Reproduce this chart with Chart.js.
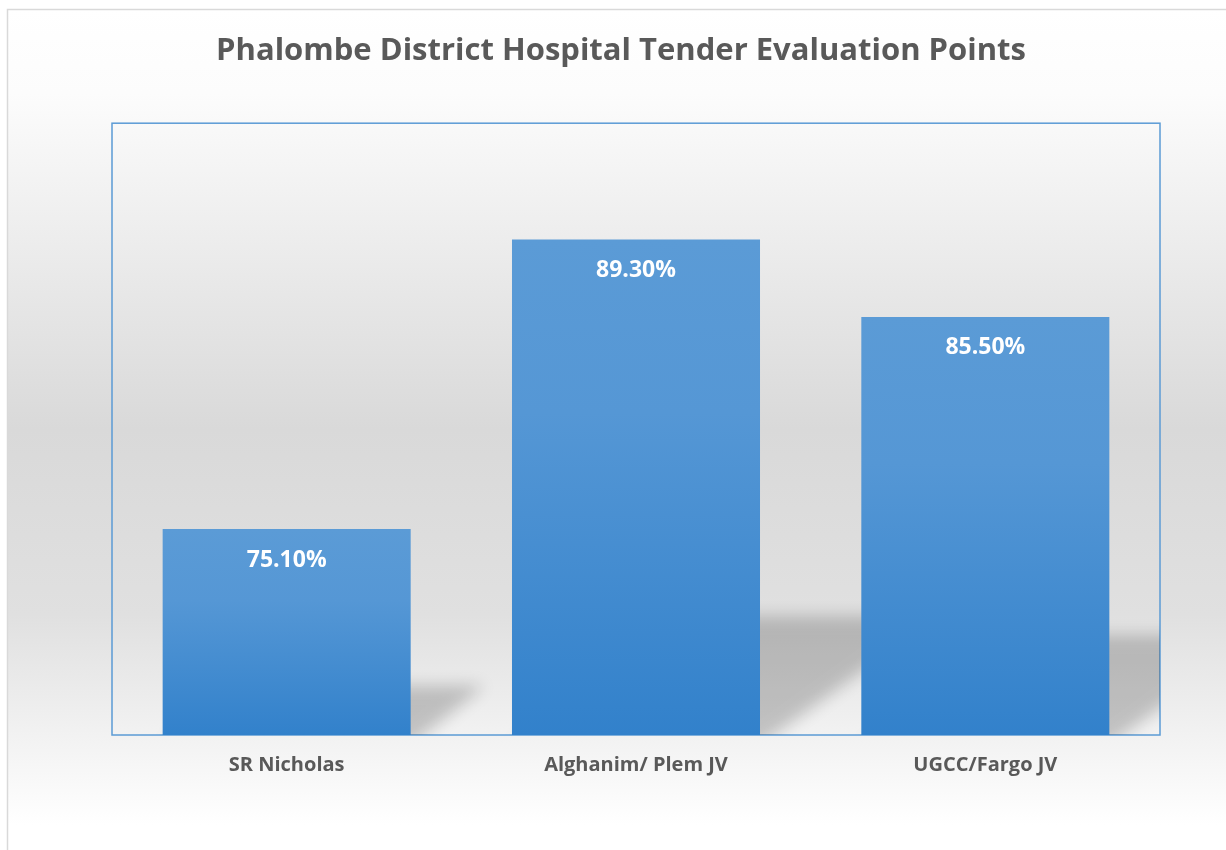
<!DOCTYPE html>
<html lang="en">
<head>
    <meta charset="UTF-8">
    <title>Phalombe District Hospital Tender Evaluation Points</title>
    <script src="https://cdn.jsdelivr.net/npm/chart.js"></script>
    <style>
        html, body { margin: 0; padding: 0; background: #ffffff; }
        canvas { display: block; }
    </style>
</head>
<body>
    <canvas id="tenderChart" width="1226" height="850"></canvas>

    <script>
        // Chart data
        const bidders = ['SR Nicholas', 'Alghanim/ Plem JV', 'UGCC/Fargo JV'];
        const scores = [75.1, 89.3, 85.5];
        const chartTitle = 'Phalombe District Hospital Tender Evaluation Points';

        const fontFamily = '"Open Sans", "Liberation Sans", sans-serif';

        // Grey page background with the thin outer frame
        const backgroundPlugin = {
            id: 'background',
            beforeDraw(chart) {
                const ctx = chart.ctx;
                ctx.save();
                ctx.fillStyle = '#ffffff';
                ctx.fillRect(0, 0, chart.width, chart.height);
                const grad = ctx.createLinearGradient(0, 9, 0, chart.height);
                grad.addColorStop(0, '#ffffff');
                grad.addColorStop(0.1, '#fcfcfc');
                grad.addColorStop(0.5, '#d9d9d9');
                grad.addColorStop(0.72, '#e0e0e0');
                grad.addColorStop(0.97, '#ffffff');
                ctx.fillStyle = grad;
                ctx.fillRect(7, 9, chart.width - 7, chart.height - 9);
                ctx.strokeStyle = '#d9d9d9';
                ctx.lineWidth = 1.5;
                ctx.beginPath();
                ctx.moveTo(7.5, chart.height);
                ctx.lineTo(7.5, 9.5);
                ctx.lineTo(chart.width, 9.5);
                ctx.stroke();
                ctx.restore();
            }
        };

        // Plot frame and soft perspective shadows behind the bars
        const frameAndShadowPlugin = {
            id: 'frameAndShadow',
            beforeDatasetsDraw(chart) {
                const ctx = chart.ctx;
                const area = chart.chartArea;
                ctx.save();
                ctx.strokeStyle = '#5b9bd5';
                ctx.lineWidth = 1.5;
                ctx.strokeRect(area.left, area.top, area.right - area.left, area.bottom - area.top);

                ctx.beginPath();
                ctx.rect(area.left, area.top, area.right - area.left, area.bottom - area.top);
                ctx.clip();
                // shapes are drawn off canvas; only their blurred shadow lands in the plot
                const shift = 4000;
                ctx.shadowOffsetX = shift;
                ctx.shadowOffsetY = 0;
                ctx.shadowBlur = 16;
                ctx.shadowColor = 'rgba(0,0,0,0.2)';
                ctx.fillStyle = '#000000';
                chart.getDatasetMeta(0).data.forEach(bar => {
                    const bottom = area.bottom; // bar base sits below the axis minimum
                    const h = bottom - bar.y;
                    const dy = h * 0.24;
                    const dx = dy * 1.5;
                    const left = bar.x - bar.width / 2 - shift;
                    const right = bar.x + bar.width / 2 - shift;
                    ctx.beginPath();
                    ctx.moveTo(left, bottom + 10);
                    ctx.lineTo(right, bottom + 10);
                    ctx.lineTo(right + dx, bottom - dy);
                    ctx.lineTo(left + dx, bottom - dy);
                    ctx.closePath();
                    ctx.fill();
                });
                ctx.restore();
            }
        };

        // Value labels inside the top of each bar
        const valueLabelPlugin = {
            id: 'valueLabels',
            afterDatasetsDraw(chart) {
                const ctx = chart.ctx;
                ctx.save();
                ctx.fillStyle = '#ffffff';
                ctx.font = 'bold 23px ' + fontFamily;
                ctx.textAlign = 'center';
                ctx.textBaseline = 'middle';
                chart.getDatasetMeta(0).data.forEach((bar, i) => {
                    ctx.fillText(scores[i].toFixed(2) + '%', bar.x, bar.y + 31);
                });
                ctx.restore();
            }
        };

        function barGradient(context) {
            const chart = context.chart;
            if (!chart.chartArea) return '#4a8fd4';
            const y = chart.scales.y;
            const top = y.getPixelForValue(scores[context.dataIndex]);
            const bottom = y.getPixelForValue(y.min);
            const g = chart.ctx.createLinearGradient(0, top, 0, bottom);
            g.addColorStop(0, '#5b9bd6');
            g.addColorStop(0.35, '#5597d5');
            g.addColorStop(1, '#3281cb');
            return g;
        }

        const ctx = document.getElementById('tenderChart').getContext('2d');
        new Chart(ctx, {
            type: 'bar',
            data: {
                labels: bidders,
                datasets: [{
                    label: 'Evaluation Points',
                    data: scores,
                    backgroundColor: barGradient,
                    borderWidth: 0,
                    barPercentage: 0.71,
                    categoryPercentage: 1.0
                }]
            },
            options: {
                responsive: false,
                animation: false,
                layout: {
                    padding: { left: 82, right: 66, top: 0, bottom: 55 }
                },
                plugins: {
                    legend: { display: false },
                    tooltip: { enabled: false },
                    title: {
                        display: true,
                        text: chartTitle,
                        color: '#595959',
                        font: { family: fontFamily, size: 31, weight: 'bold' },
                        padding: { top: 33, bottom: 53 }
                    }
                },
                scales: {
                    x: {
                        grid: { display: false, drawTicks: false },
                        border: { display: false },
                        ticks: {
                            color: '#595959',
                            padding: 18,
                            font: { family: fontFamily, size: 20, weight: 'bold' }
                        }
                    },
                    y: {
                        min: 65,
                        max: 95,
                        grid: { display: false, drawTicks: false },
                        border: { display: false },
                        ticks: { display: false },
                        afterFit: (scale) => { scale.width = 30; }
                    }
                }
            },
            plugins: [backgroundPlugin, frameAndShadowPlugin, valueLabelPlugin]
        });
    </script>
</body>
</html>
